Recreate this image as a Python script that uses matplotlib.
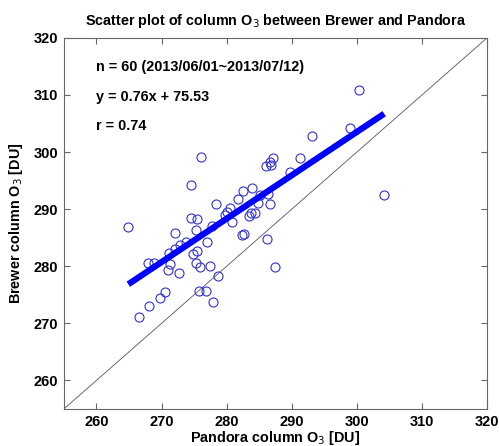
import numpy as np
import matplotlib
matplotlib.use("Agg")
import matplotlib.pyplot as plt

plt.rcParams['font.family'] = ['Liberation Sans', 'DejaVu Sans']

# Pandora (x) and Brewer (y) column O3 [DU]
pandora = [264.9, 266.6, 268.1, 267.9, 268.9, 269.8, 270.6, 271.0, 271.3, 271.2,
           272.1, 272.1, 272.7, 273.7, 274.5, 274.6, 275.5, 275.3, 274.8, 275.4,
           275.3, 275.9, 275.8, 276.8, 276.0, 277.0, 277.5, 277.9, 278.6, 278.3,
           280.0, 280.5, 280.8, 281.7, 282.5, 282.3, 282.6, 283.9, 283.8, 284.4,
           283.5, 285.2, 286.3, 286.7, 286.2, 287.4, 286.1, 286.6, 287.2, 286.8,
           289.7, 291.2, 293.1, 298.9, 300.3, 304.2, 279.7, 284.8, 277.8, 272.8]
brewer = [286.9, 271.1, 273.0, 280.5, 280.5, 274.5, 275.5, 279.3, 280.4, 282.3,
          283.1, 285.9, 278.9, 284.2, 294.3, 288.5, 288.3, 286.3, 282.1, 282.6,
          280.6, 279.9, 275.7, 275.7, 299.2, 284.3, 280.1, 273.7, 278.3, 290.9,
          289.5, 290.2, 287.8, 291.8, 293.2, 285.4, 285.7, 293.7, 289.4, 289.4,
          288.8, 292.5, 292.6, 290.9, 284.7, 279.8, 297.6, 298.3, 298.9, 297.8,
          296.5, 299.0, 302.8, 304.3, 310.9, 292.5, 289.0, 291.0, 287.0, 283.8]

slope = 0.76
intercept = 75.53
ticks = [260, 270, 280, 290, 300, 310, 320]

fig = plt.figure(figsize=(4.99, 4.46), dpi=100)
ax = fig.add_axes([0.128, 0.083, 0.848, 0.832])

# 1:1 line
ax.plot([255, 320], [255, 320], color='#555555', lw=0.6)

# data
ax.plot(pandora, brewer, 'o', mfc='none', mec='#3333cc', mew=0.8, ms=6.5)

# fit line
xf = np.array([min(pandora), max(pandora)])
ax.plot(xf, slope * xf + intercept, color='#0000ff', lw=4.5, solid_capstyle='butt')

ax.set_xlim(255, 320)
ax.set_ylim(255, 320)
ax.set_xticks(ticks)
ax.set_yticks(ticks)
ax.tick_params(direction='in', top=True, right=True, length=4, width=0.8,
               color='#666666', labelsize=10.5, pad=4)
for lab in ax.get_xticklabels() + ax.get_yticklabels():
    lab.set_fontweight('bold')
for s in ax.spines.values():
    s.set_color('#666666')
    s.set_linewidth(0.8)

ax.set_title('Scatter plot of column O$_3$ between Brewer and Pandora',
             fontsize=10.4, fontweight='bold', pad=9)
ax.set_xlabel('Pandora column O$_3$ [DU]', fontsize=10.4, fontweight='bold', labelpad=0)
ax.set_ylabel('Brewer column O$_3$ [DU]', fontsize=10.4, fontweight='bold', labelpad=6)

ax.text(259.9, 314.9, 'n = 60 (2013/06/01~2013/07/12)', fontsize=10.4,
        fontweight='bold', va='center')
ax.text(259.9, 309.7, 'y = 0.76x + 75.53', fontsize=10.4, fontweight='bold', va='center')
ax.text(259.9, 304.6, 'r = 0.74', fontsize=10.4, fontweight='bold', va='center')

fig.savefig('out.png', dpi=100)
